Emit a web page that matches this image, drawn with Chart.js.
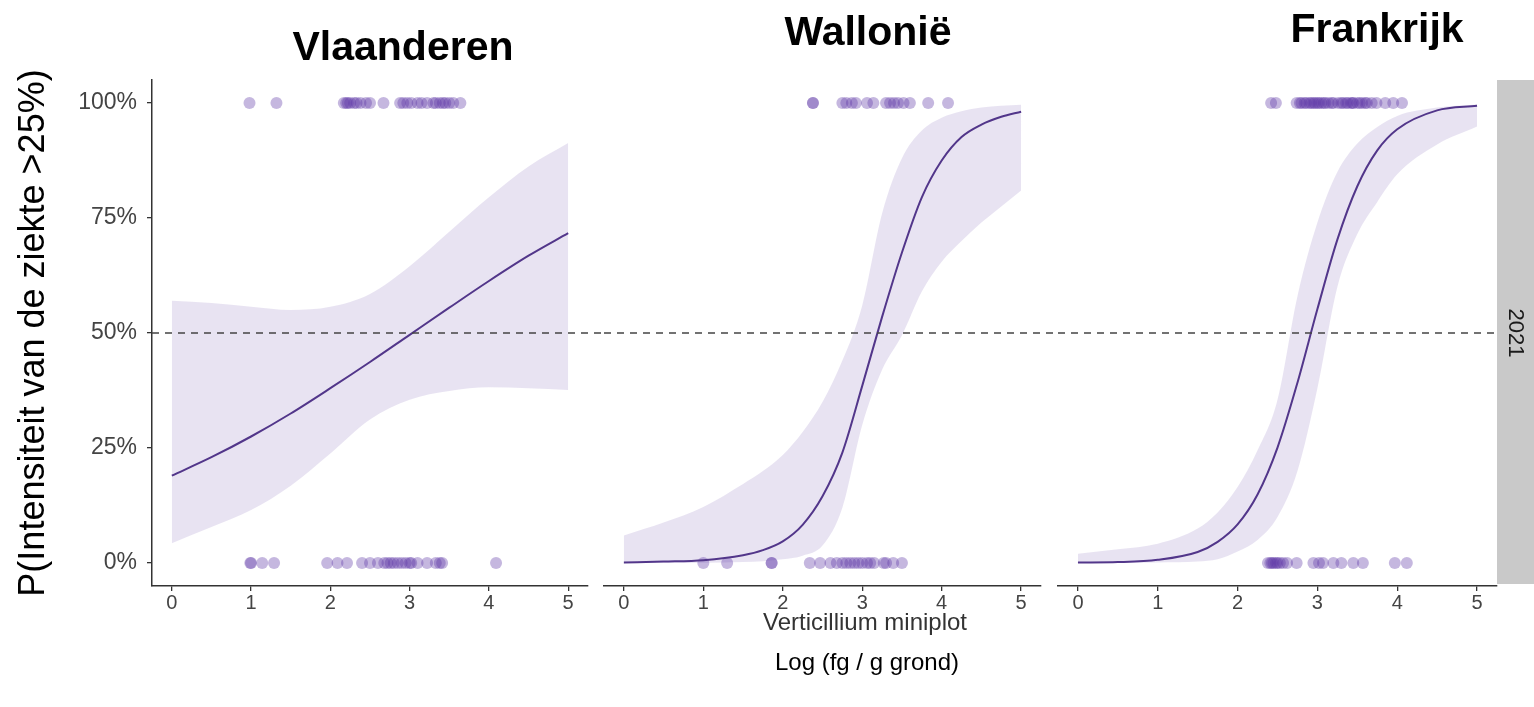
<!DOCTYPE html>
<html>
<head>
<meta charset="utf-8">
<script src="https://cdn.jsdelivr.net/npm/chart.js@4.4.1/dist/chart.umd.min.js"></script>
<style>
  html, body { margin: 0; padding: 0; background: #fff; }
  #wrap { position: relative; width: 1534px; height: 707px; }
  #wrap canvas { position: absolute; left: 0; top: 0; }
</style>
</head>
<body>
<div id="wrap">
  <canvas id="c1" width="1534" height="707"></canvas>
  <canvas id="c2" width="1534" height="707"></canvas>
  <canvas id="c3" width="1534" height="707"></canvas>
</div>
<script>
// axis ticks
const xTicks = [0, 1, 2, 3, 4, 5];
const yTicks = [0, 0.25, 0.5, 0.75, 1];
const yTickLabels = ['0%', '25%', '50%', '75%', '100%'];
const refLevel = 0.5;
const panelNames = ['Vlaanderen', 'Wallonië', 'Frankrijk'];
const stripLabel = '2021';

// Vlaanderen: fitted curve + 95% band, observations (1 = >25%, 0 = not)
const vlGrid = [0, 0.5, 1, 1.5, 2, 2.5, 3, 3.5, 4, 4.5, 5];
const vlFit  = [0.19, 0.23, 0.275, 0.325, 0.38, 0.437, 0.496, 0.555, 0.613, 0.668, 0.717];
const vlHigh = [0.57, 0.565, 0.557, 0.55, 0.557, 0.585, 0.645, 0.72, 0.795, 0.862, 0.913];
const vlLow  = [0.043, 0.078, 0.115, 0.168, 0.238, 0.312, 0.355, 0.374, 0.382, 0.38, 0.376];
const vlPos = [0.98, 1.32, 2.17, 2.2, 2.22, 2.25, 2.3, 2.33, 2.38, 2.45, 2.5, 2.67, 2.88, 2.92, 2.97, 3.02, 3.1, 3.15, 3.22, 3.3, 3.33, 3.38, 3.42, 3.45, 3.5, 3.55, 3.64];
const vlNeg = [0.99, 1.0, 1.14, 1.29, 1.96, 2.09, 2.21, 2.4, 2.5, 2.6, 2.68, 2.72, 2.76, 2.8, 2.85, 2.9, 2.95, 3.0, 3.02, 3.1, 3.22, 3.33, 3.38, 3.41, 4.09];

// Wallonie
const waGrid = [0, 0.5, 1, 1.5, 1.75, 2, 2.25, 2.5, 2.75, 3, 3.25, 3.5, 3.75, 4, 4.25, 4.5, 4.75, 5];
const waFit  = [0.001, 0.003, 0.006, 0.017, 0.028, 0.047, 0.083, 0.145, 0.24, 0.385, 0.535, 0.675, 0.795, 0.875, 0.926, 0.953, 0.97, 0.981];
const waHigh = [0.06, 0.088, 0.122, 0.172, 0.2, 0.235, 0.285, 0.35, 0.44, 0.56, 0.76, 0.88, 0.94, 0.968, 0.982, 0.99, 0.994, 0.996];
const waLow  = [0, 0, 0.0005, 0.002, 0.004, 0.008, 0.016, 0.038, 0.12, 0.3, 0.42, 0.495, 0.59, 0.655, 0.7, 0.74, 0.775, 0.81];
const waPos = [2.38, 2.38, 2.75, 2.8, 2.87, 2.92, 3.06, 3.14, 3.3, 3.35, 3.4, 3.45, 3.52, 3.6, 3.83, 4.08];
const waNeg = [1.0, 1.3, 1.86, 1.86, 2.34, 2.47, 2.6, 2.68, 2.75, 2.8, 2.85, 2.9, 2.95, 3.0, 3.06, 3.1, 3.15, 3.27, 3.3, 3.39, 3.5];

// Frankrijk
const frGrid = [0, 0.5, 1, 1.5, 1.75, 2, 2.25, 2.5, 2.75, 3, 3.25, 3.5, 3.75, 4, 4.5, 5];
const frFit  = [0.001, 0.002, 0.007, 0.024, 0.046, 0.084, 0.149, 0.251, 0.392, 0.552, 0.703, 0.819, 0.897, 0.943, 0.984, 0.994];
const frHigh = [0.02, 0.03, 0.042, 0.075, 0.11, 0.165, 0.245, 0.355, 0.58, 0.74, 0.85, 0.912, 0.948, 0.972, 0.99, 0.997];
const frLow  = [0, 0.0005, 0.001, 0.003, 0.008, 0.025, 0.05, 0.1, 0.2, 0.38, 0.6, 0.715, 0.785, 0.845, 0.91, 0.949];
const frPos = [2.42, 2.48, 2.74, 2.78, 2.8, 2.84, 2.86, 2.9, 2.92, 2.95, 2.97, 3.0, 3.02, 3.05, 3.08, 3.1, 3.14, 3.18, 3.2, 3.26, 3.3, 3.32, 3.36, 3.38, 3.42, 3.44, 3.45, 3.5, 3.53, 3.56, 3.6, 3.62, 3.68, 3.74, 3.85, 3.95, 4.06];
const frNeg = [2.38, 2.41, 2.43, 2.45, 2.48, 2.5, 2.53, 2.57, 2.62, 2.74, 2.95, 3.02, 3.07, 3.2, 3.3, 3.45, 3.57, 3.97, 4.12];

const FONT = '"Liberation Sans", Arial, Helvetica, sans-serif';
const lineCol = '#52368a';
const dotCol = 'rgba(94, 55, 165, 0.36)';
const ribbonCol = 'rgba(120, 90, 175, 0.17)';
const axisCol = '#333333';
const tickCol = '#444444';

function pts(xs, ys) { return xs.map((x, i) => ({ x: x, y: ys[i] })); }
function flat(xs, level) { return xs.map(x => ({ x: x, y: level })); }

// dashed 50% line, strip and free text
const extras = {
  id: 'extras',
  beforeDatasetsDraw(chart, args, o) {
    if (!o.strip) return;
    const a = chart.chartArea, ctx = chart.ctx;
    ctx.save();
    ctx.fillStyle = '#c9c9c9';
    ctx.fillRect(a.right, a.top, chart.width - a.right, a.bottom - a.top - 2);
    ctx.translate((a.right + chart.width) / 2, (a.top + a.bottom) / 2);
    ctx.rotate(Math.PI / 2);
    ctx.fillStyle = '#1a1a1a';
    ctx.font = '22px ' + FONT;
    ctx.textAlign = 'center';
    ctx.textBaseline = 'middle';
    ctx.fillText(o.strip, 0, 0);
    ctx.restore();
  },
  afterDatasetsDraw(chart, args, o) {
    const a = chart.chartArea, ctx = chart.ctx;
    const y = chart.scales.y.getPixelForValue(refLevel);
    ctx.save();
    ctx.strokeStyle = '#444';
    ctx.lineWidth = 1.4;
    ctx.setLineDash([7, 6]);
    ctx.beginPath();
    ctx.moveTo(a.left, y);
    ctx.lineTo(a.right + (o.extend || 0), y);
    ctx.stroke();
    ctx.restore();
  },
  afterDraw(chart, args, o) {
    const ctx = chart.ctx;
    (o.texts || []).forEach(t => {
      ctx.save();
      ctx.font = t.font;
      ctx.fillStyle = t.color;
      ctx.textAlign = 'center';
      ctx.textBaseline = 'alphabetic';
      ctx.fillText(t.text, t.x, t.y);
      ctx.restore();
    });
  }
};

function makePanel(id, p) {
  new Chart(document.getElementById(id), {
    type: 'scatter',
    plugins: [extras],
    data: {
      datasets: [
        { type: 'line', data: pts(p.grid, p.fit), borderColor: lineCol, borderWidth: 2,
          pointRadius: 0, fill: false, cubicInterpolationMode: 'monotone' },
        { data: flat(p.pos, 1), pointRadius: 6, backgroundColor: dotCol, pointBackgroundColor: dotCol, pointBorderWidth: 0, borderWidth: 0 },
        { data: flat(p.neg, 0), pointRadius: 6, backgroundColor: dotCol, pointBackgroundColor: dotCol, pointBorderWidth: 0, borderWidth: 0 },
        { type: 'line', data: pts(p.grid, p.high), borderWidth: 0, pointRadius: 0,
          fill: '+1', backgroundColor: ribbonCol, cubicInterpolationMode: 'monotone' },
        { type: 'line', data: pts(p.grid, p.low), borderWidth: 0, pointRadius: 0,
          fill: false, cubicInterpolationMode: 'monotone' }
      ]
    },
    options: {
      responsive: false,
      animation: false,
      events: [],
      layout: { padding: { left: p.left, right: p.right, top: 80, bottom: 0 } },
      plugins: {
        legend: { display: false },
        tooltip: { enabled: false },
        extras: { extend: p.extend, strip: p.strip, texts: p.texts }
      },
      scales: {
        x: {
          type: 'linear', min: -0.25, max: 5.25,
          afterBuildTicks: s => { s.ticks = xTicks.map(v => ({ value: v })); },
          afterFit: s => { s.height = 121; },
          grid: { drawOnChartArea: false, drawTicks: true, tickLength: 5, color: axisCol, lineWidth: 1.3 },
          border: { display: true, color: axisCol, width: 1.5 },
          ticks: { color: tickCol, font: { size: 20, family: FONT }, padding: 0, maxRotation: 0, autoSkip: false }
        },
        y: {
          type: 'linear', min: -0.05, max: 1.05, display: p.showY,
          afterBuildTicks: s => { s.ticks = yTicks.map(v => ({ value: v })); },
          afterFit: s => { s.width = p.showY ? 152 : 0; },
          grid: { drawOnChartArea: false, drawTicks: true, tickLength: 5, color: axisCol, lineWidth: 1.3 },
          border: { display: true, color: axisCol, width: 1.5 },
          ticks: { color: tickCol, font: { size: 23, family: FONT }, padding: 10,
                   callback: v => yTickLabels[yTicks.indexOf(v)] },
          title: { display: true, text: 'P(Intensiteit van de ziekte >25%)', color: '#000',
                   font: { size: 36, family: FONT }, padding: { top: 12, bottom: 0 } }
        }
      }
    }
  });
}

const titleFont = 'bold 41px ' + FONT;

makePanel('c1', {
  grid: vlGrid, fit: vlFit, high: vlHigh, low: vlLow, pos: vlPos, neg: vlNeg,
  left: 0, right: 946, extend: 16, showY: true,
  texts: [{ text: panelNames[0], x: 403, y: 60, font: titleFont, color: '#000' }]
});
makePanel('c2', {
  grid: waGrid, fit: waFit, high: waHigh, low: waLow, pos: waPos, neg: waNeg,
  left: 604, right: 493, extend: 17, showY: false,
  texts: [
    { text: panelNames[1], x: 868, y: 45, font: titleFont, color: '#000' },
    { text: 'Verticillium miniplot', x: 865, y: 630, font: '24px ' + FONT, color: '#333' },
    { text: 'Log (fg / g grond)', x: 867, y: 670, font: '24px ' + FONT, color: '#000' }
  ]
});
makePanel('c3', {
  grid: frGrid, fit: frFit, high: frHigh, low: frLow, pos: frPos, neg: frNeg,
  left: 1058, right: 37, extend: 0, showY: false, strip: stripLabel,
  texts: [{ text: panelNames[2], x: 1377, y: 42, font: titleFont, color: '#000' }]
});
</script>
</body>
</html>
